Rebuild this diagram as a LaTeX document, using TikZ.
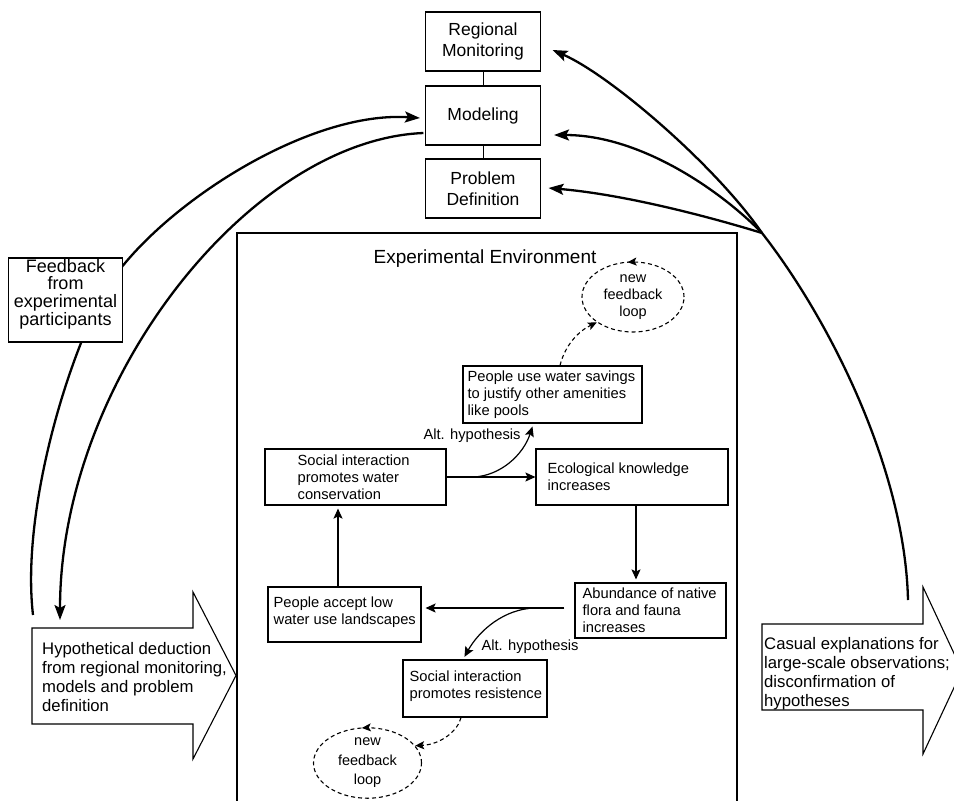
\documentclass[tikz,border=0pt]{standalone}
\usepackage{fontspec}
\setmainfont{Liberation Sans}
\usetikzlibrary{arrows.meta,shapes.geometric,calc,decorations.markings}
\tikzset{
  boxline/.style={line width=1.1pt},
  topbox/.style={draw, boxline, minimum width=115pt, minimum height=59pt, inner sep=0pt, align=center, font=\fontsize{17.5}{21}\selectfont},
  framebox/.style={draw, boxline, inner sep=0pt},
  intext/.style={anchor=west, align=left, inner sep=0pt, font=\fontsize{14.7}{16.8}\selectfont},
  lbl/.style={inner sep=0pt, font=\fontsize{14.7}{16.8}\selectfont},
  bigtext/.style={anchor=west, align=left, inner sep=0pt, font=\fontsize{16.7}{19}\selectfont},
  heavy/.style={line width=2.3pt, -{Stealth[length=15pt,width=11pt,inset=3pt]}},
  flow/.style={line width=1.2pt, -{Stealth[length=10pt,width=9pt,inset=2pt]}},
  dflow/.style={line width=1.1pt, dash pattern=on 4pt off 3pt, -{Stealth[length=9pt,width=8pt,inset=2pt]}},
  loopnode/.style={draw, ellipse, line width=1.1pt, dash pattern=on 4pt off 3pt, inner sep=0pt, align=center,
    font=\fontsize{14.5}{17}\selectfont,
    postaction={decorate, decoration={markings, mark=at position 0.27 with {\arrow[line width=1.1pt]{Stealth[length=9pt,width=8pt,inset=2pt]}}}}},
}
\begin{document}
\begin{tikzpicture}[x=1pt,y=-1pt]
\useasboundingbox (0,0) rectangle (954,801);

% top boxes
\node[topbox] (rm) at (483,41.5) {Regional\\Monitoring};
\node[topbox] (mod) at (483,115.5) {Modeling};
\node[topbox] (pd) at (483,188.5) {Problem\\Definition};
\draw[line width=1pt] (rm) -- (mod);
\draw[line width=1pt] (mod) -- (pd);

% experimental environment frame
\draw[boxline] (237,801) -- (237,233) -- (737,233) -- (737,801);
\node[font=\fontsize{19}{22}\selectfont, inner sep=0pt] (title) at (485,259) {Experimental Environment};

% inner boxes
\node[framebox, minimum width=179pt, minimum height=57pt] (water) at (552.5,394.5) {};
\node[intext] (watert) at ($(water.west)+(5,0)$) {People use water savings\\to justify other amenities\\like pools};

\node[framebox, minimum width=181pt, minimum height=56pt] (social) at (355.5,477) {};
\node[intext] (socialt) at ($(social.west)+(33,0)$) {Social interaction\\promotes water\\conservation};

\node[framebox, minimum width=192pt, minimum height=56pt] (eco) at (632,477) {};
\node[intext] (ecot) at ($(eco.west)+(12,0)$) {Ecological knowledge\\increases};

\node[framebox, minimum width=151pt, minimum height=55pt] (abund) at (650.5,610.5) {};
\node[intext] (abundt) at ($(abund.west)+(8,0)$) {Abundance of native\\flora and fauna\\increases};

\node[framebox, minimum width=153pt, minimum height=55pt] (accept) at (344.5,614.5) {};
\node[intext] (acceptt) at ($(accept.west)+(6,-2)$) {People accept low\\water use landscapes};

\node[framebox, minimum width=144pt, minimum height=57pt] (resist) at (475,688.5) {};
\node[intext] (resistt) at ($(resist.west)+(7,-2)$) {Social interaction\\promotes resistence};

% new feedback loops
\node[loopnode, minimum width=102pt, minimum height=70pt] (loop1) at (633,297) {new\\feedback\\loop};
\node[loopnode, minimum width=108pt, minimum height=63pt, font=\fontsize{14.5}{19.5}\selectfont] (loop2) at (367.5,763) {new\\feedback\\loop};

% inner arrows
\draw[flow] (social.east) -- (social.east -| eco.west);
\coordinate (alt1s) at ($(social.east)!0.3!(social.east -| eco.west)$);
\draw[flow] (alt1s) .. controls ($(alt1s)+(27,-1)$) and ($(alt1s)+(50,-22)$) .. ($(water.south)+(-20,3)$);
\node[lbl] (alt1) at (472,436) {Alt. hypothesis};

\coordinate (e1) at ($(eco.south)+(4,0)$);
\draw[flow, shorten >=3pt] (e1) -- (e1 |- abund.north);

\coordinate (ab1) at ($(abund.west)+(-10,-2.5)$);
\draw[flow, shorten >=4pt] (ab1) -- (ab1 -| accept.east);

\coordinate (alt2s) at ($(ab1)+(-30,0)$);
\draw[flow, shorten >=3pt] (alt2s) .. controls ($(alt2s)+(-30,1)$) and ($(alt2s)+(-55,22)$) .. ($(resist.north)+(-12,0)$);
\node[lbl] (alt2) at (530,647) {Alt. hypothesis};

\coordinate (ac1) at ($(accept.north)+(-6.5,0)$);
\draw[flow, shorten >=3pt] (ac1) -- (ac1 |- social.south);

% dashed arrows
\coordinate (w1) at ($(water.north)+(7.5,0)$);
\draw[dflow] (w1) .. controls ($(w1)+(5,-20)$) and ($(w1)+(18,-34)$) .. (loop1.215);
\coordinate (r1) at ($(resist.south)+(-14,0)$);
\draw[dflow] (r1) .. controls ($(r1)+(-3,13)$) and ($(r1)+(-20,27)$) .. (loop2.20);

% big block arrows
\draw[boxline] (32,628) -- (193,628) -- (193,592) -- (236,675.5) -- (193,759) -- (193,724) -- (32,724) -- cycle;
\node[bigtext] (hyp) at (42,677) {Hypothetical deduction\\from regional monitoring,\\models and problem\\definition};
\draw[boxline] (762,624) -- (923,624) -- (923,587) -- (962,670.5) -- (923,754) -- (923,710) -- (762,710) -- cycle;
\node[bigtext] (caus) at (764,674) {Casual explanations for\\large-scale observations;\\disconfirmation of\\hypotheses};

% left curves
\coordinate (lstart) at (33,615);
\coordinate (lmid) at (100,300);
\coordinate (modin) at ($(mod.west)+(-5,2.5)$);
\draw[heavy] (lstart) .. controls (22,520) and (60,380) .. (lmid) .. controls (140,220) and (300,110) .. (modin);
\node[framebox, fill=white, minimum width=114pt, minimum height=84pt] (fb) at (65.5,300) {};
\node[align=center, inner sep=0pt, font=\fontsize{18}{17.7}\selectfont] (fbt) at (65.5,294) {Feedback\\from\\experimental\\participants};

\coordinate (modout) at ($(mod.west)+(-1.5,17.5)$);
\coordinate (hyptip) at (60,620);
\draw[heavy] (modout) .. controls (250,140) and (60,380) .. (hyptip);

% right curves
\coordinate (rstart) at (908,600);
\coordinate (conv) at (762,233);
\coordinate (rmin) at ($(rm.east)+(11.5,8.5)$);
\coordinate (modrin) at ($(mod.east)+(13,19.5)$);
\coordinate (pdin) at ($(pd.east)+(7.5,-0.5)$);
\draw[heavy] (rstart) .. controls (905,470) and (830,320) .. (conv) .. controls (715,165) and (610,75) .. (rmin);
\draw[heavy] (conv) .. controls (720,190) and (640,135) .. (modrin);
\draw[heavy] (conv) .. controls (720,220) and (630,195) .. (pdin);
\end{tikzpicture}
\end{document}
